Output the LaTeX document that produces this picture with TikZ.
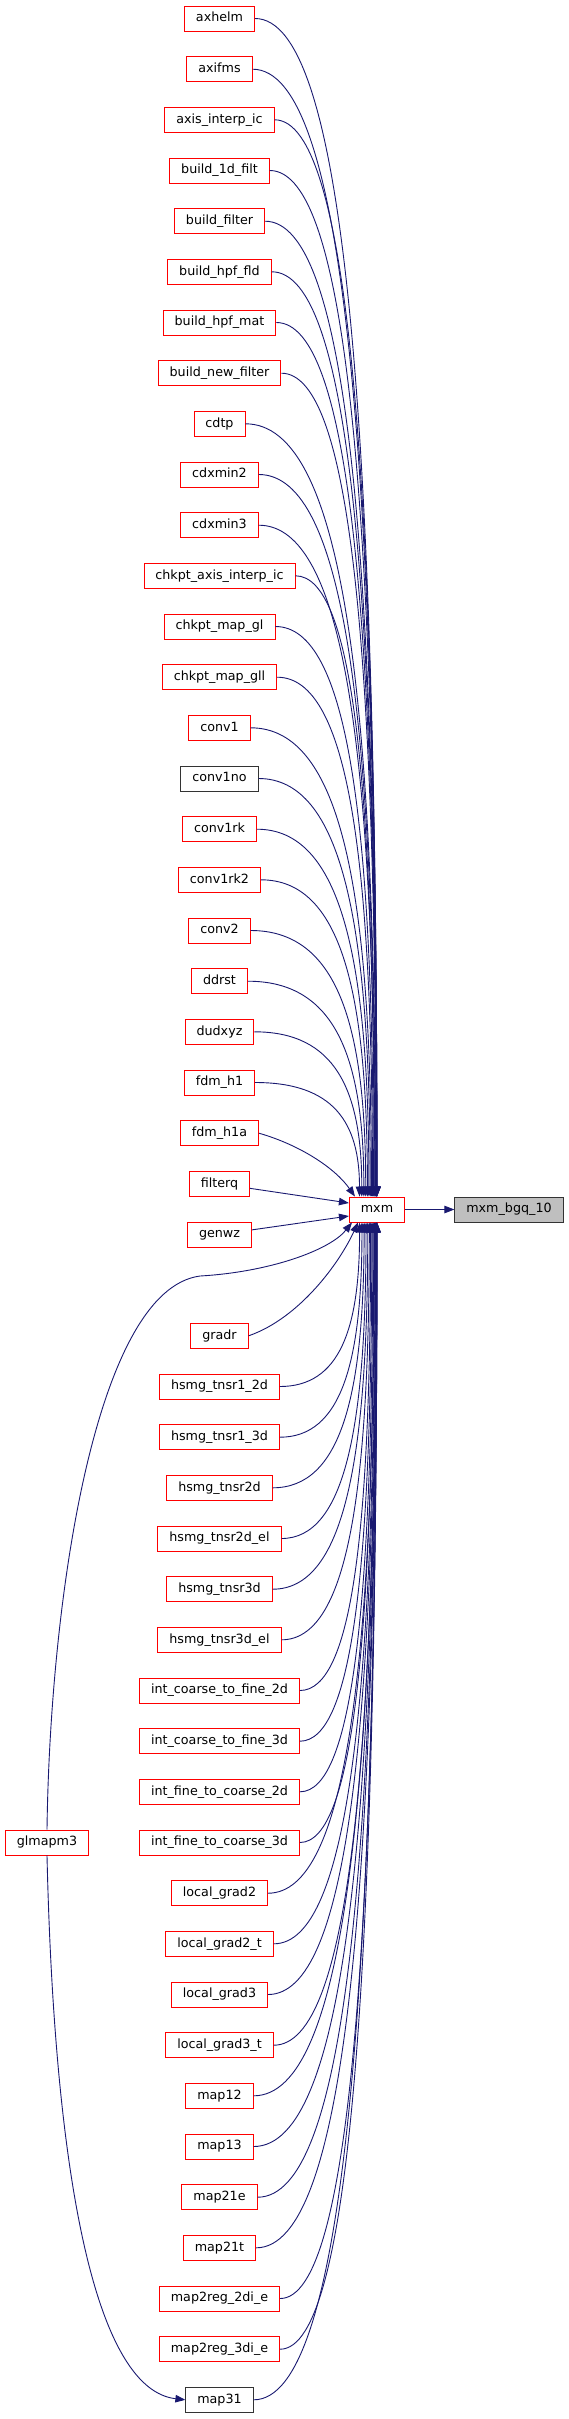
\documentclass[tikz,border=0pt]{standalone}
\usepackage{fontspec}
\setmainfont{DejaVu Sans}
\usetikzlibrary{calc,arrows.meta}
\definecolor{edgeblue}{RGB}{25,25,112}
\definecolor{rootgrey}{RGB}{191,191,191}
\tikzset{
    % function boxes
    fn/.style={draw=red, fill=white, line width=0.9pt, minimum height=25pt,
               inner xsep=11.5pt, inner ysep=0pt, text height=9.2pt, text depth=2.6pt,
               font=\fontsize{12.7}{15}\selectfont},
    fnplain/.style={fn, draw=black!80},
    fnroot/.style={fn, draw=black!80, fill=rootgrey},
    % call edges
    calledge/.style={draw=edgeblue, line width=0.9pt, -{Triangle[length=10pt,width=7.5pt]}},
}
\begin{document}
\begin{tikzpicture}[x=1pt,y=-1pt]
  \useasboundingbox (0,0) rectangle (569,2419);

  % callee and root
  \node[fn] (mxm) at (377,1209.5) {mxm};
  \node[fnroot] (bgq) at (509,1209.5) {mxm\_bgq\_10};

  % callers above mxm
  \node[fn] (cl0)  at (219.5,18.5)   {axhelm};
  \node[fn] (cl1)  at (219.5,69.2)   {axifms};
  \node[fn] (cl2)  at (219.5,119.8)  {axis\_interp\_ic};
  \node[fn] (cl3)  at (219.5,170.5)  {build\_1d\_filt};
  \node[fn] (cl4)  at (219.5,221.2)  {build\_filter};
  \node[fn] (cl5)  at (219.5,271.8)  {build\_hpf\_fld};
  \node[fn] (cl6)  at (219.5,322.5)  {build\_hpf\_mat};
  \node[fn] (cl7)  at (219.5,373.2)  {build\_new\_filter};
  \node[fn] (cl8)  at (219.5,423.8)  {cdtp};
  \node[fn] (cl9)  at (219.5,474.5)  {cdxmin2};
  \node[fn] (cl10) at (219.5,525.2)  {cdxmin3};
  \node[fn] (cl11) at (219.5,575.8)  {chkpt\_axis\_interp\_ic};
  \node[fn] (cl12) at (219.5,626.5)  {chkpt\_map\_gl};
  \node[fn] (cl13) at (219.5,677.2)  {chkpt\_map\_gll};
  \node[fn] (cl14) at (219.5,727.8)  {conv1};
  \node[fnplain] (cl15) at (219.5,778.5) {conv1no};
  \node[fn] (cl16) at (219.5,829.2)  {conv1rk};
  \node[fn] (cl17) at (219.5,879.8)  {conv1rk2};
  \node[fn] (cl18) at (219.5,930.5)  {conv2};
  \node[fn] (cl19) at (219.5,981.2)  {ddrst};
  \node[fn] (cl20) at (219.5,1031.8) {dudxyz};
  \node[fn] (cl21) at (219.5,1082.5) {fdm\_h1};
  \node[fn] (cl22) at (219.5,1133.2) {fdm\_h1a};
  \node[fn] (cl23) at (219.5,1183.8) {filterq};
  \node[fn] (cl24) at (219.5,1234.5) {genwz};

  % callers below mxm
  \node[fn] (cl26) at (219.5,1335.8) {gradr};
  \node[fn] (cl27) at (219.5,1386.5) {hsmg\_tnsr1\_2d};
  \node[fn] (cl28) at (219.5,1437.2) {hsmg\_tnsr1\_3d};
  \node[fn] (cl29) at (219.5,1487.8) {hsmg\_tnsr2d};
  \node[fn] (cl30) at (219.5,1538.5) {hsmg\_tnsr2d\_el};
  \node[fn] (cl31) at (219.5,1589.2) {hsmg\_tnsr3d};
  \node[fn] (cl32) at (219.5,1639.8) {hsmg\_tnsr3d\_el};
  \node[fn] (cl33) at (219.5,1690.5) {int\_coarse\_to\_fine\_2d};
  \node[fn] (cl34) at (219.5,1741.2) {int\_coarse\_to\_fine\_3d};
  \node[fn] (cl35) at (219.5,1791.8) {int\_fine\_to\_coarse\_2d};
  \node[fn] (cl36) at (219.5,1842.5) {int\_fine\_to\_coarse\_3d};
  \node[fn] (cl37) at (219.5,1893.2) {local\_grad2};
  \node[fn] (cl38) at (219.5,1943.8) {local\_grad2\_t};
  \node[fn] (cl39) at (219.5,1994.5) {local\_grad3};
  \node[fn] (cl40) at (219.5,2045.2) {local\_grad3\_t};
  \node[fn] (cl41) at (219.5,2095.8) {map12};
  \node[fn] (cl42) at (219.5,2146.5) {map13};
  \node[fn] (cl43) at (219.5,2197.2) {map21e};
  \node[fn] (cl44) at (219.5,2247.8) {map21t};
  \node[fn] (cl45) at (219.5,2298.5) {map2reg\_2di\_e};
  \node[fn] (cl46) at (219.5,2349.2) {map2reg\_3di\_e};
  \node[fnplain] (cl47) at (219.5,2399.8) {map31};
  \node[fn] (glm) at (47,1842.5) {glmapm3};

  % edges into the top of mxm
  \foreach \i in {0,...,21}{
    \pgfmathsetmacro\offs{-20*((\i+1)/23)^3}
    \draw[calledge] let \p0=(cl\i.east), \p3=($(mxm.north)+(\offs,0)$) in
      (\p0) .. controls ({\x0+0.75*(\x3-\x0)},\y0) and (\x3,{\y0+0.35*(\y3-\y0)}) .. (\p3);
  }
  \draw[calledge] (cl22.east) .. controls (300,1145) and (335,1168) .. ($(mxm.north)+(-22,0)$);
  \draw[calledge] (cl23) -- ($(mxm.west)+(0,-6.5)$);
  \draw[calledge] (cl24) -- ($(mxm.west)+(0,6.5)$);

  % edges into the bottom of mxm
  \foreach \i in {27,...,47}{
    \pgfmathsetmacro\offs{-20*((48-\i)/22)^3}
    \draw[calledge] let \p0=(cl\i.east), \p3=($(mxm.south)+(\offs,0)$) in
      (\p0) .. controls ({\x0+0.75*(\x3-\x0)},\y0) and (\x3,{\y0+0.35*(\y3-\y0)}) .. (\p3);
  }
  \draw[calledge] (cl26.east) .. controls (300,1318) and (340,1262) .. ($(mxm.south)+(-19,0)$);
  \draw[calledge] (glm.north) .. controls (50,1600) and (95,1290) .. (200,1276)
                  .. controls (270,1272) and (330,1250) .. ($(mxm.south)+(-25,0)$);
  \draw[calledge] (glm.south) .. controls (55,2200) and (100,2390) .. (cl47.west);

  % root edge
  \draw[calledge] (mxm) -- (bgq);
\end{tikzpicture}
\end{document}
